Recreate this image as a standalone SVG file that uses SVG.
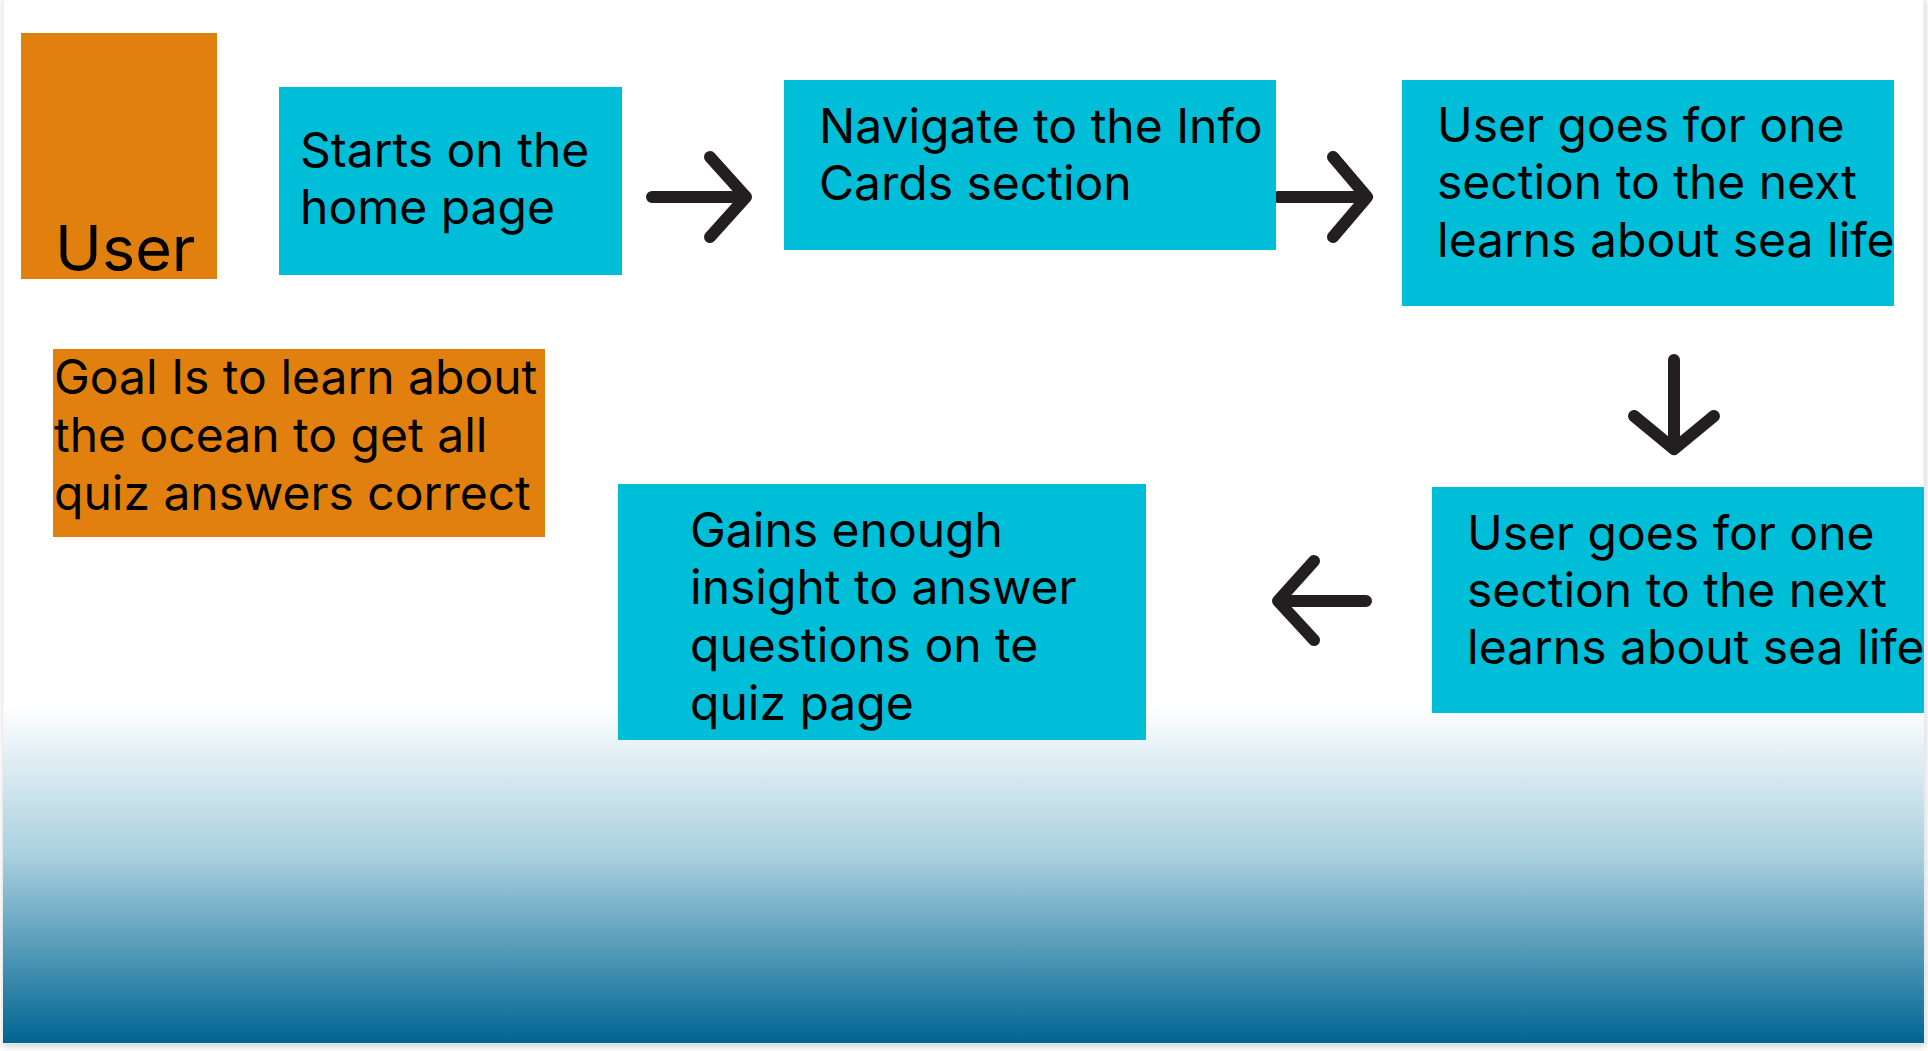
<svg xmlns="http://www.w3.org/2000/svg" width="1928" height="1051" viewBox="0 0 1928 1051">
<style>
.cyan{fill:#00BED8}
.orange{fill:#E2800F}
.t{font-family:Inter,"Liberation Sans",sans-serif;font-size:48px;fill:#000}
.arrow{fill:none;stroke:#231F20;stroke-width:12;stroke-linecap:round;stroke-linejoin:round}
</style>
<defs>
<linearGradient id="sea" x1="0" y1="0" x2="0" y2="1">
<stop offset="0" stop-color="#ffffff"/>
<stop offset="0.45" stop-color="#A8CFDE"/>
<stop offset="1" stop-color="#006592"/>
</linearGradient>
<filter id="sh" x="-2%" y="-2%" width="104%" height="104%">
<feDropShadow dx="1" dy="3" stdDeviation="3" flood-color="#000" flood-opacity="0.18"/>
</filter>
</defs>
<rect x="0" y="0" width="1928" height="1051" fill="#ffffff"/>
<g id="card">
<rect x="3" y="-2" width="1921" height="1045" fill="#ffffff" stroke="#e4e4e4" stroke-width="1" filter="url(#sh)"/>
<rect x="3" y="705" width="1921" height="338" fill="url(#sea)"/>
</g>
<g id="connectors">
<path class="arrow" d="M652 197 H744 M710 157 L746 197 L710 237"/>
<path class="arrow" d="M1278 197 H1364 M1333 157 L1367 197 L1333 237"/>
<path class="arrow" d="M1674 360 V446 M1634 416 L1674 449 L1714 416"/>
<path class="arrow" d="M1366 601 H1280 M1314 561 L1278 601 L1314 640"/>
</g>
<g id="user">
<rect class="orange" x="21" y="33" width="196" height="246"/>
<text class="t" x="55" y="271" style="font-size:63px">User</text>
</g>
<g id="goal">
<rect class="orange" x="53" y="349" width="492" height="188"/>
<text class="t" x="54"><tspan x="54" y="394">Goal Is to learn about</tspan><tspan x="54" y="452">the ocean to get all</tspan><tspan x="54" y="510">quiz answers correct</tspan></text>
</g>
<g id="start">
<rect class="cyan" x="279" y="87" width="343" height="188"/>
<text class="t"><tspan x="300" y="167">Starts on the</tspan><tspan x="300" y="224">home page</tspan></text>
</g>
<g id="navigate">
<rect class="cyan" x="784" y="80" width="492" height="170"/>
<text class="t"><tspan x="819" y="143">Navigate to the Info</tspan><tspan x="819" y="200">Cards section</tspan></text>
</g>
<g id="sections1">
<rect class="cyan" x="1402" y="80" width="492" height="226"/>
<text class="t"><tspan x="1437" y="142">User goes for one</tspan><tspan x="1437" y="199">section to the next</tspan><tspan x="1437" y="257">learns about sea life</tspan></text>
</g>
<g id="sections2">
<rect class="cyan" x="1432" y="487" width="492" height="226"/>
<text class="t"><tspan x="1467" y="550">User goes for one</tspan><tspan x="1467" y="607">section to the next</tspan><tspan x="1467" y="664">learns about sea life</tspan></text>
</g>
<g id="gains">
<rect class="cyan" x="618" y="484" width="528" height="256"/>
<text class="t"><tspan x="690" y="547">Gains enough</tspan><tspan x="690" y="604">insight to answer</tspan><tspan x="690" y="662">questions on te</tspan><tspan x="690" y="720">quiz page</tspan></text>
</g>
</svg>
